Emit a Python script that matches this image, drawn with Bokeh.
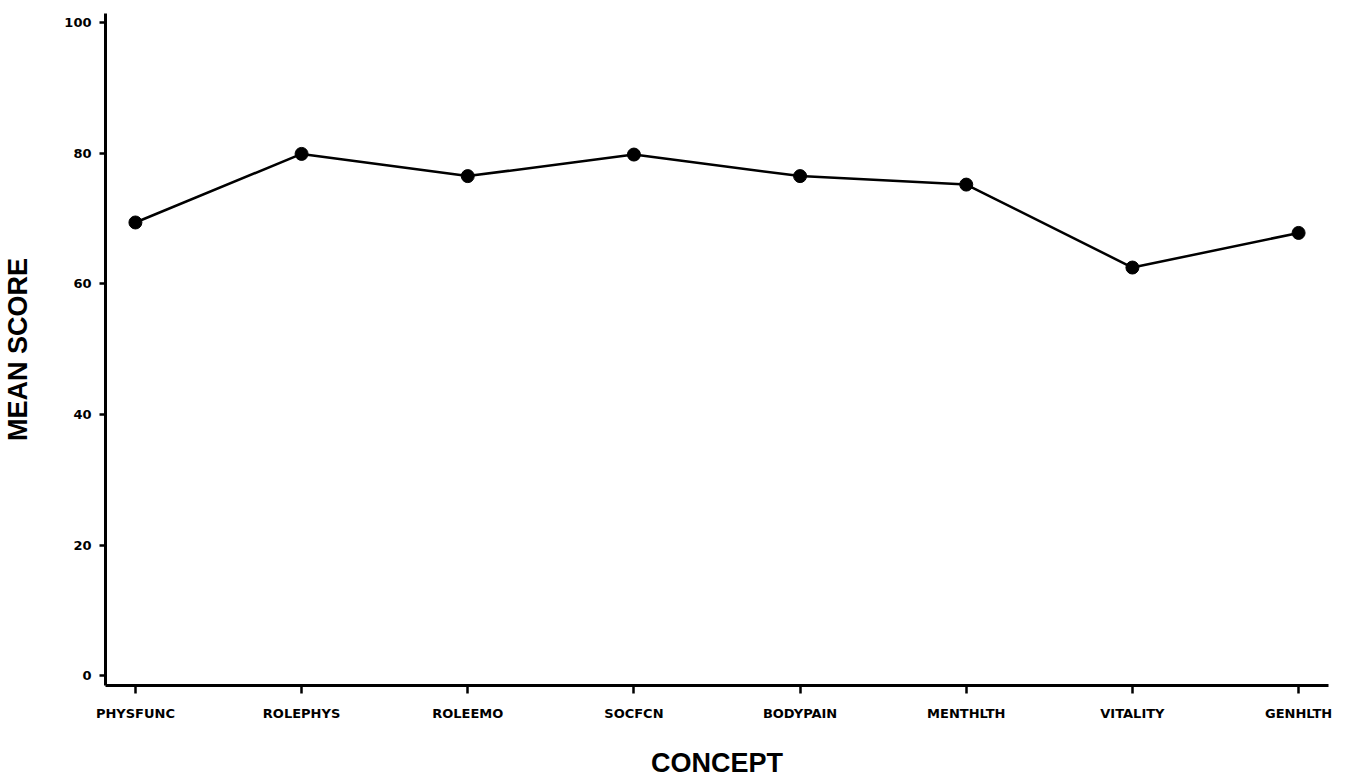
from bokeh.plotting import figure
from bokeh.models import FixedTicker, Range1d
from bokeh.embed import file_html
from bokeh.resources import INLINE

concepts = ["PHYSFUNC", "ROLEPHYS", "ROLEEMO", "SOCFCN", "BODYPAIN", "MENTHLTH", "VITALITY", "GENHLTH"]
mean_score = [69.4, 79.9, 76.5, 79.8, 76.5, 75.2, 62.5, 67.8]
y_ticks = [0, 20, 40, 60, 80, 100]

xs = list(range(len(concepts)))

p = figure(width=1338, height=770, output_backend="svg", toolbar_location=None,
           x_range=Range1d(-0.18, 7.18), y_range=Range1d(-1.5, 101.4),
           frame_width=1223, frame_height=672,
           min_border_left=101, min_border_top=13, min_border_right=14, min_border_bottom=85)
p.outline_line_color = None
p.grid.visible = False
p.background_fill_color = "white"
p.border_fill_color = "white"

p.line(xs, mean_score, line_color="black", line_width=2.5)
p.scatter(xs, mean_score, size=13, fill_color="black", line_color="black")

p.xaxis.ticker = FixedTicker(ticks=xs)
p.xaxis.major_label_overrides = {i: c for i, c in enumerate(concepts)}
p.yaxis.ticker = FixedTicker(ticks=y_ticks)

for ax in (p.xaxis[0], p.yaxis[0]):
    ax.axis_line_width = 3
    ax.axis_line_color = "black"
    ax.major_tick_line_width = 2.5
    ax.major_tick_line_color = "black"
    ax.minor_tick_line_color = None
    ax.major_tick_in = 0
    ax.major_label_text_font = "DejaVu Sans"
    ax.major_label_text_font_style = "bold"
    ax.major_label_text_font_size = "13px"
    ax.major_label_text_color = "black"
    ax.axis_label_text_font = "Liberation Sans"
    ax.axis_label_text_font_style = "bold"
    ax.axis_label_text_font_size = "27px"
    ax.axis_label_text_color = "black"

p.xaxis.major_tick_out = 8
p.xaxis.major_label_standoff = 12
p.xaxis.axis_label = "CONCEPT"
p.xaxis.axis_label_standoff = 24

p.yaxis.major_tick_out = 6
p.yaxis.major_label_standoff = 8
p.yaxis.axis_label = "MEAN SCORE"
p.yaxis.axis_label_standoff = 28

open("out.html", "w").write(file_html(p, INLINE))
